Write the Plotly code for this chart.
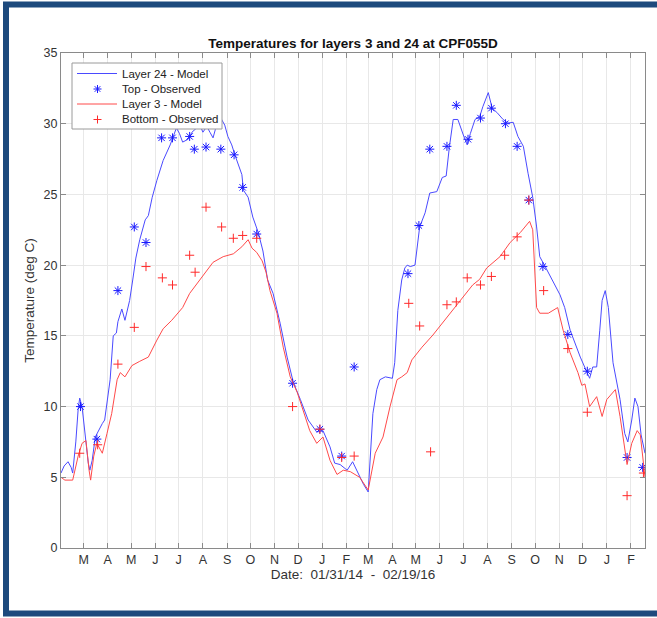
import pandas as pd
import plotly.graph_objects as go

START = pd.Timestamp("2014-01-31")
END = pd.Timestamp("2016-02-19")

# Layer 24 model (surface), days since 01/31/14
l24_days = [0, 4, 9, 13, 15, 19, 22, 24, 27, 31, 35, 37, 40, 44, 48, 53, 56, 60, 63, 67,
            71, 73, 78, 82, 88, 92, 96, 101, 108, 112, 117, 123, 131, 140, 143, 148, 152,
            156, 163, 168, 172, 178, 182, 187, 191, 195, 198, 202, 205, 210, 214, 219, 223,
            227, 232, 234, 240, 246, 253, 259, 265, 272, 281, 290, 298, 307, 317, 328, 336,
            345, 351, 358, 367, 374, 383, 388, 394, 400, 405, 409, 416, 425, 428, 432, 437,
            441, 444, 448, 454, 460, 467, 473, 482, 489, 494, 498, 503, 509, 516, 521, 525,
            531, 537, 541, 548, 553, 559, 567, 573, 580, 586, 593, 599, 605, 610, 614, 621,
            630, 640, 646, 653, 666, 675, 678, 682, 687, 691, 694, 698, 702, 708, 717, 723,
            727, 732, 736, 740, 744, 749]
l24_temp = [5.3, 5.8, 6.1, 5.7, 5.3, 7.5, 9.8, 10.6, 10.0, 8.0, 6.0, 5.5, 6.2, 7.85, 8.3,
            8.8, 9.05, 10.5, 11.9, 15.0, 15.2, 16.0, 16.9, 16.1, 17.5, 18.95, 20.5, 21.8,
            23.2, 23.5, 24.8, 26.0, 27.4, 28.5, 28.9, 29.7, 29.3, 28.7, 28.9, 29.4, 29.6,
            29.9, 29.4, 29.8, 29.4, 29.0, 29.6, 29.9, 30.4, 29.9, 29.1, 28.5, 27.8, 27.1,
            26.4, 25.3, 24.8, 23.4, 22.3, 21.0, 18.95, 18.0, 15.9, 13.5, 11.7, 10.5, 9.05,
            8.2, 8.3, 7.15, 6.0, 5.9, 5.5, 6.1, 5.0, 4.5, 3.96, 9.5, 11.2, 11.9, 12.1, 12.0,
            13.1, 16.8, 18.95, 19.8, 20.0, 19.9, 20.0, 22.7, 23.7, 25.1, 25.2, 26.2, 26.3,
            28.3, 30.3, 30.3, 29.2, 28.5, 29.3, 30.3, 30.5, 31.2, 32.2, 31.1, 30.8, 30.3,
            30.05, 30.1, 29.1, 28.4, 26.5, 24.8, 22.7, 20.6, 19.9, 18.95, 17.9, 17.0, 15.4,
            13.5, 12.3, 12.0, 12.8, 12.8, 15.4, 17.5, 18.2, 17.0, 13.1, 10.5, 8.1, 7.5, 9.05,
            10.6, 10.0, 8.0, 6.7]

# Layer 3 model (bottom)
l3_days = [0, 5, 15, 22, 27, 32, 36, 38, 42, 46, 50, 53, 59, 65, 72, 76, 82, 91, 101, 112,
           123, 131, 142, 150, 156, 165, 178, 195, 208, 221, 232, 240, 245, 251, 258, 263,
           268, 277, 285, 294, 303, 310, 319, 328, 336, 345, 354, 362, 371, 383, 394, 403,
           413, 422, 431, 437, 444, 450, 463, 477, 495, 512, 528, 537, 546, 563, 576, 589,
           601, 605, 608, 610, 614, 625, 631, 637, 644, 653, 663, 668, 672, 678, 687, 694,
           700, 711, 717, 726, 732, 739, 743, 749]
l3_temp = [5.0, 4.8, 4.8, 6.5, 7.4, 7.6, 5.5, 4.8, 6.5, 7.4, 7.0, 6.7, 8.1, 9.5, 11.9, 12.4,
           12.1, 12.9, 13.2, 13.5, 14.7, 15.5, 16.1, 16.6, 17.0, 18.0, 18.95, 20.2, 20.6,
           20.8, 21.3, 21.8, 21.2, 20.9, 20.3, 19.5, 18.2, 16.6, 14.2, 12.1, 11.0, 9.8, 8.3,
           7.4, 7.85, 6.2, 5.2, 5.5, 5.4, 5.0, 4.1, 6.7, 7.85, 10.0, 11.9, 12.1, 12.4, 13.3,
           14.2, 15.06, 16.3, 17.5, 18.6, 19.0, 19.8, 20.6, 21.6, 22.3, 23.1, 22.5, 19.0,
           17.0, 16.6, 16.6, 16.8, 17.0, 15.4, 13.8, 12.4, 11.5, 11.6, 10.0, 10.7, 9.3, 10.5,
           11.2, 9.3, 5.9, 7.4, 8.3, 8.0, 5.0]

# Field observations (same sampling days for top and bottom sensors)
top_days = [25, 46, 73, 94, 109, 129, 143, 165, 171, 186, 205, 222, 233, 251, 297, 332,
            360, 376, 445, 459, 473, 495, 507, 522, 538, 552, 570, 585, 600, 618, 650, 675,
            726, 746]
top_temp = [10.0, 7.7, 18.2, 22.7, 21.6, 29.0, 29.0, 29.1, 28.2, 28.35, 28.2, 27.8, 25.5,
            22.2, 11.65, 8.4, 6.5, 12.8, 19.4, 22.8, 28.2, 28.4, 31.3, 28.9, 30.4, 31.1,
            30.0, 28.4, 24.6, 19.9, 15.1, 12.5, 6.4, 5.7]

bot_days = [24, 47, 73, 94, 109, 130, 143, 165, 172, 186, 206, 221, 233, 251, 297, 332,
            360, 376, 446, 460, 474, 495, 507, 521, 538, 552, 569, 585, 600, 619, 650, 675,
            726, 747]
bot_temp = [6.7, 7.3, 13.0, 15.6, 19.9, 19.1, 18.6, 20.7, 19.5, 24.1, 22.7, 21.9, 22.1,
            21.9, 10.0, 8.4, 6.4, 6.5, 17.3, 15.7, 6.8, 17.2, 17.4, 19.1, 18.6, 19.2, 20.7,
            22.0, 24.6, 18.2, 14.1, 9.6, 3.7, 5.3]

month_letters = ["M", "A", "M", "J", "J", "A", "S", "O", "N", "D", "J", "F",
                 "M", "A", "M", "J", "J", "A", "S", "O", "N", "D", "J", "F"]
month_starts = pd.date_range("2014-03-01", periods=len(month_letters), freq="MS")
y_ticks = [0, 5, 10, 15, 20, 25, 30, 35]

legend_labels = ["Layer 24 - Model", "Top - Observed", "Layer 3 - Model", "Bottom - Observed"]


def to_dates(days):
    return START + pd.to_timedelta(days, unit="D")


BLUE_LINE = "#4a4aff"
RED_LINE = "#ff4a4a"
BLUE_MARK = "#1a1aff"
RED_MARK = "#ff2a2a"
FONT = "Liberation Sans, Arial, Helvetica, sans-serif"

W, H = 657, 618
ML, MR, MT, MB = 61, 12, 53, 70
PW, PH = W - ML - MR, H - MT - MB


def px(x):
    """figure pixel column -> paper x"""
    return (x - ML) / PW


def py(y):
    """figure pixel row -> paper y"""
    return (H - MB - y) / PH


fig = go.Figure()
fig.add_trace(go.Scatter(x=to_dates(l24_days), y=l24_temp, mode="lines",
                         line=dict(color=BLUE_LINE, width=1), name=legend_labels[0]))
fig.add_trace(go.Scatter(x=to_dates(top_days), y=top_temp, mode="markers",
                         marker=dict(symbol="asterisk-open", size=7.5, color=BLUE_MARK,
                                     line=dict(color=BLUE_MARK, width=1)),
                         name=legend_labels[1]))
fig.add_trace(go.Scatter(x=to_dates(l3_days), y=l3_temp, mode="lines",
                         line=dict(color=RED_LINE, width=1), name=legend_labels[2]))
fig.add_trace(go.Scatter(x=to_dates(bot_days), y=bot_temp, mode="markers",
                         marker=dict(symbol="cross-thin-open", size=6.5, color=RED_MARK,
                                     line=dict(color=RED_MARK, width=1)),
                         name=legend_labels[3]))

axis_common = dict(showline=True, linecolor="#8a8a8a", linewidth=1, mirror="ticks",
                   ticks="inside", ticklen=5, tickcolor="#8a8a8a",
                   showgrid=True, gridcolor="#e8e8e8", gridwidth=1, zeroline=False,
                   tickfont=dict(family=FONT, size=12.5, color="#333333"))

fig.update_layout(
    width=W, height=H,
    margin=dict(l=ML, r=MR, t=MT, b=MB),
    paper_bgcolor="white", plot_bgcolor="white",
    font=dict(family=FONT, color="#222222"),
    showlegend=False,
    title=dict(text="<b>Temperatures for layers 3 and 24 at CPF055D</b>",
               x=0.5, xref="paper", xanchor="center",
               y=1 - 43 / H, yref="container", yanchor="middle",
               font=dict(family=FONT, size=13.5, color="#111111")),
    xaxis=dict(type="date", range=[START, END], tickmode="array",
               tickvals=list(month_starts), ticktext=month_letters,
               title=dict(text="Date:\u00a0\u00a001/31/14\u00a0\u00a0-\u00a0\u00a002/19/16",
                          font=dict(family=FONT, size=13.5, color="#333333"),
                          standoff=3),
               **axis_common),
    yaxis=dict(range=[0, 35], tickmode="array", tickvals=y_ticks,
               title=dict(text="Temperature (deg C)",
                          font=dict(family=FONT, size=13.5, color="#333333"),
                          standoff=5),
               **axis_common),
)

shapes = []
# Legend box
shapes.append(dict(type="rect", xref="paper", yref="paper",
                   x0=px(72), x1=px(222), y0=py(129), y1=py(63),
                   line=dict(color="#9a9a9a", width=1), fillcolor="white", layer="above"))
row_y = [73.5, 89, 104, 119.5]
glyph_x = 97.5
# Line samples
for yy, col in ((row_y[0], BLUE_LINE), (row_y[2], RED_LINE)):
    shapes.append(dict(type="line", xref="paper", yref="paper",
                       x0=px(77), x1=px(117), y0=py(yy), y1=py(yy),
                       line=dict(color=col, width=1), layer="above"))
# Asterisk glyph
r = 4
for dx, dy in ((r, 0), (0, r), (0.7 * r, 0.7 * r), (0.7 * r, -0.7 * r)):
    shapes.append(dict(type="line", xref="paper", yref="paper",
                       x0=px(glyph_x - dx), x1=px(glyph_x + dx),
                       y0=py(row_y[1] - dy), y1=py(row_y[1] + dy),
                       line=dict(color=BLUE_MARK, width=1), layer="above"))
# Plus glyph
r = 4
for dx, dy in ((r, 0), (0, r)):
    shapes.append(dict(type="line", xref="paper", yref="paper",
                       x0=px(glyph_x - dx), x1=px(glyph_x + dx),
                       y0=py(row_y[3] - dy), y1=py(row_y[3] + dy),
                       line=dict(color=RED_MARK, width=1), layer="above"))
# Dark blue frame around the figure
shapes.append(dict(type="rect", xref="paper", yref="paper",
                   x0=px(6), x1=px(665), y0=py(613.5), y1=py(4.5),
                   line=dict(color="#1d4a7d", width=6), fillcolor="rgba(0,0,0,0)",
                   layer="above"))

annotations = [dict(text=lab, xref="paper", yref="paper", x=px(120), y=py(yy),
                    xanchor="left", yanchor="middle", showarrow=False,
                    font=dict(family=FONT, size=11.5, color="#222222"))
               for lab, yy in zip(legend_labels, row_y)]

fig.update_layout(shapes=shapes, annotations=annotations)

fig.write_html("out.html")
